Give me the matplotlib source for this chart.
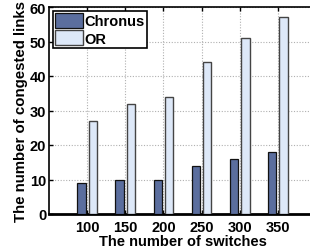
import matplotlib
matplotlib.use("Agg")
import matplotlib.pyplot as plt
import numpy as np

switches = [100, 150, 200, 250, 300, 350]
chronus = [9, 10, 10, 14, 16, 18]
or_vals = [27, 32, 34, 44, 51, 57]
yticks = [0, 10, 20, 30, 40, 50, 60]

plt.rcParams['font.family'] = ['Liberation Sans', 'DejaVu Sans']
plt.rcParams['font.weight'] = 'bold'

fig = plt.figure(figsize=(3.10, 2.53), dpi=100)
W, H = 310, 253
left, right, top, bottom = 49, 316, 8, 215
ax = fig.add_axes([left / W, 1 - bottom / H, (right - left) / W, (bottom - top) / H])

x = np.array(switches, dtype=float)
w = 11
ax.bar(x - 7.5, chronus, width=w, color='#5b6e9e', edgecolor='#111111', linewidth=0.9,
       label='Chronus', zorder=3)
ax.bar(x + 7.5, or_vals, width=w, color='#dde8f8', edgecolor='#444444', linewidth=1.0,
       label='OR', zorder=3)

ax.set_xlim(50, 400)
ax.set_ylim(0, 60)
ax.set_xticks(switches)
ax.set_xticklabels([str(s) for s in switches])
ax.set_yticks(yticks)
ax.tick_params(axis='both', labelsize=10.5, direction='in', length=3, width=1,
               top=True, right=True)
ax.tick_params(axis='x', pad=4)
ax.tick_params(axis='y', pad=2)
for lab in ax.get_xticklabels() + ax.get_yticklabels():
    lab.set_fontweight('bold')
ax.grid(True, linestyle=(0, (1, 1.5)), color='#b0b0b0', linewidth=0.8, zorder=0)
for s in ['left', 'top', 'right']:
    ax.spines[s].set_linewidth(1.2)
ax.spines['bottom'].set_linewidth(2)

ax.set_xlabel('The number of switches', fontsize=10.5, fontweight='bold', labelpad=0)
ax.set_ylabel('The number of congested links', fontsize=10.8, fontweight='bold', labelpad=1)

leg = ax.legend(loc='upper left', fontsize=10.5, frameon=True, fancybox=False,
                edgecolor='black', borderpad=0.15, handlelength=1.9, handleheight=1.2,
                handletextpad=0.15, labelspacing=0.15, borderaxespad=0.25,
                prop={'weight': 'bold', 'size': 10.5})
leg.get_frame().set_linewidth(1.2)
leg.get_frame().set_alpha(1)

fig.savefig('out.png', dpi=100)
